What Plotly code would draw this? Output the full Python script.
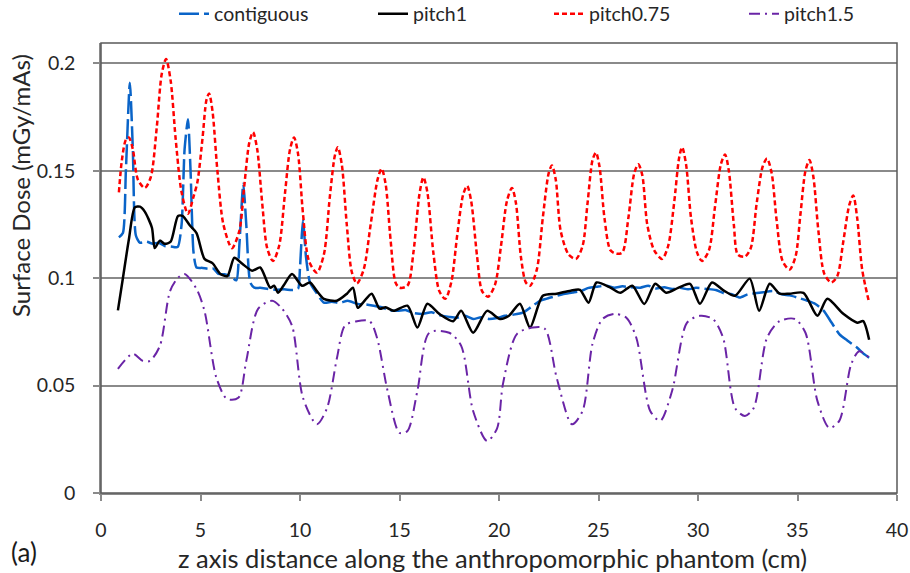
import plotly.graph_objects as go

# ---------------- data ----------------
contig_x = [0.9, 1.1, 1.25, 1.45, 1.6, 1.75, 1.95, 2.3, 2.6, 2.9, 3.2, 3.5, 3.85, 4.05, 4.2, 4.37, 4.5, 4.65,
            4.8, 5.1, 5.4, 5.65, 5.9, 6.2, 6.5, 6.8, 6.95, 7.15, 7.3, 7.5, 7.7, 8.0, 8.4, 8.8, 9.2, 9.6, 9.9,
            10.0, 10.15, 10.3, 10.5, 10.8, 11.2, 11.6, 12.0, 12.4, 12.9, 13.3, 13.7, 14.1, 14.5, 14.9, 15.3,
            15.7, 16.2, 16.6, 17.0, 17.5, 17.9, 18.3, 18.7, 19.1, 19.5, 19.9, 20.3, 20.7, 21.2, 21.6, 22.06,
            22.4, 22.8, 23.2, 23.7, 24.1, 24.5, 24.9, 25.4, 25.8, 26.2, 26.6, 27.1, 27.5, 27.9, 28.3, 28.7,
            29.1, 29.5, 29.9, 30.45, 30.9, 31.3, 31.7, 32.1, 32.5, 32.9, 33.3, 33.8, 34.2, 34.6, 35.0, 35.5,
            35.9, 36.3, 36.7, 37.1, 37.5, 38.0, 38.3, 38.6]
contig_y = [0.119, 0.121, 0.150, 0.191, 0.160, 0.120, 0.1166, 0.117, 0.116, 0.1165, 0.115, 0.1148, 0.1145,
            0.125, 0.160, 0.174, 0.150, 0.112, 0.105, 0.1048, 0.1044, 0.1045, 0.102, 0.1018, 0.101, 0.099,
            0.115, 0.144, 0.125, 0.098, 0.0956, 0.0955, 0.095, 0.0946, 0.0948, 0.0945, 0.095, 0.105, 0.127,
            0.110, 0.098, 0.0935, 0.0886, 0.089, 0.0885, 0.0895, 0.088, 0.0878, 0.0872, 0.0865, 0.085, 0.0848,
            0.0852, 0.0838, 0.0834, 0.0842, 0.0828, 0.082, 0.0816, 0.0825, 0.081, 0.0818, 0.081, 0.0815,
            0.0825, 0.083, 0.084, 0.0865, 0.0895, 0.0905, 0.0915, 0.0925, 0.0933, 0.094, 0.0955, 0.096,
            0.0965, 0.0955, 0.0962, 0.0958, 0.0956, 0.0965, 0.0952, 0.0958, 0.095, 0.0955, 0.0948, 0.0955,
            0.095, 0.0945, 0.093, 0.0925, 0.091, 0.0925, 0.093, 0.0935, 0.094, 0.0925, 0.092, 0.091, 0.0895,
            0.088, 0.085, 0.0795, 0.074, 0.071, 0.0676, 0.065, 0.063]

pitch1_x = [0.85, 1.1, 1.4, 1.7, 1.96, 2.2, 2.56, 2.7, 2.96, 3.2, 3.5, 3.87, 4.1, 4.47, 4.8, 5.2, 5.6, 6.0,
            6.35, 6.7, 7.1, 7.6, 8.0, 8.5, 8.7, 8.9, 9.2, 9.6, 10.1, 10.5, 10.85, 11.2, 11.85, 12.36, 12.66,
            12.9, 13.2, 13.6, 14.0, 14.3, 14.7, 15.4, 15.9, 16.4, 17.0, 17.7, 18.1, 18.7, 19.4, 20.05, 20.5,
            21.05, 21.56, 22.2, 22.9, 23.6, 24.07, 24.5, 24.9, 25.6, 26.1, 26.7, 27.3, 27.85, 28.4, 29.0,
            29.6, 30.1, 30.7, 31.3, 31.86, 32.6, 33.07, 33.6, 34.1, 34.6, 35.3, 36.0, 36.5, 37.3, 38.0,
            38.3, 38.6]
pitch1_y = [0.085, 0.100, 0.118, 0.133, 0.1333, 0.131, 0.1235, 0.114, 0.1175, 0.116, 0.117, 0.129, 0.129,
            0.1245, 0.121, 0.109, 0.107, 0.102, 0.101, 0.1095, 0.1067, 0.1035, 0.105, 0.0956, 0.0965, 0.0932,
            0.097, 0.102, 0.0965, 0.098, 0.094, 0.0904, 0.0895, 0.0928, 0.0956, 0.0862, 0.089, 0.0928, 0.0858,
            0.0865, 0.0848, 0.0872, 0.077, 0.0881, 0.0834, 0.080, 0.0848, 0.0746, 0.0848, 0.081, 0.0825,
            0.0881, 0.077, 0.0918, 0.0928, 0.0942, 0.0946, 0.0886, 0.098, 0.0956, 0.0932, 0.0965, 0.088,
            0.0974, 0.0932, 0.0955, 0.0974, 0.0881, 0.098, 0.0942, 0.0918, 0.0998, 0.0848, 0.0974, 0.0928,
            0.0928, 0.0932, 0.0825, 0.0904, 0.0834, 0.0793, 0.080, 0.0713]

p075_x = [0.9, 1.05, 1.25, 1.4, 1.6, 1.85, 2.2, 2.5, 2.8, 3.05, 3.27, 3.5, 3.75, 4.05, 4.37, 4.65, 4.85, 5.1,
          5.3, 5.43, 5.6, 5.85, 6.15, 6.58, 6.95, 7.2, 7.45, 7.64, 7.85, 8.1, 8.35, 8.64, 8.95, 9.25, 9.5, 9.7,
          9.9, 10.15, 10.45, 10.85, 11.2, 11.5, 11.75, 11.9, 12.1, 12.35, 12.6, 12.86, 13.2, 13.55, 13.9,
          14.1, 14.3, 14.55, 14.8, 15.0, 15.4, 15.7, 16.0, 16.2, 16.4, 16.7, 17.0, 17.3, 17.6, 17.9, 18.2,
          18.4, 18.6, 18.9, 19.15, 19.45, 19.8, 20.1, 20.4, 20.65, 20.85, 21.1, 21.35, 21.56, 21.9, 22.2,
          22.5, 22.66, 22.85, 23.1, 23.5, 23.87, 24.2, 24.45, 24.7, 24.87, 25.05, 25.3, 25.6, 25.9, 26.2,
          26.5, 26.8, 27.0, 27.2, 27.45, 27.8, 28.2, 28.5, 28.8, 29.05, 29.2, 29.4, 29.65, 29.95, 30.2,
          30.55, 30.85, 31.15, 31.36, 31.55, 31.8, 32.0, 32.35, 32.65, 32.95, 33.25, 33.47, 33.7, 33.95,
          34.25, 34.6, 34.9, 35.15, 35.4, 35.6, 35.8, 36.05, 36.35, 36.7, 37.0, 37.3, 37.6, 37.8, 38.0,
          38.25, 38.6]
p075_y = [0.140, 0.155, 0.1645, 0.1655, 0.160, 0.146, 0.142, 0.147, 0.170, 0.195, 0.202, 0.192, 0.165, 0.140,
          0.130, 0.138, 0.145, 0.165, 0.183, 0.186, 0.178, 0.150, 0.125, 0.114, 0.122, 0.143, 0.163, 0.168,
          0.160, 0.135, 0.114, 0.108, 0.115, 0.140, 0.160, 0.1655, 0.158, 0.130, 0.108, 0.1026, 0.111, 0.138,
          0.157, 0.161, 0.153, 0.125, 0.103, 0.0975, 0.104, 0.125, 0.146, 0.151, 0.144, 0.118, 0.098, 0.0956,
          0.0965, 0.112, 0.139, 0.147, 0.140, 0.112, 0.094, 0.0904, 0.098, 0.120, 0.139, 0.143, 0.136, 0.110,
          0.094, 0.0914, 0.097, 0.115, 0.136, 0.142, 0.135, 0.110, 0.098, 0.0965, 0.104, 0.128, 0.149, 0.1525,
          0.146, 0.122, 0.111, 0.109, 0.115, 0.135, 0.155, 0.1585, 0.152, 0.128, 0.113, 0.1114, 0.112, 0.128,
          0.149, 0.153, 0.148, 0.125, 0.113, 0.109, 0.115, 0.135, 0.156, 0.161, 0.153, 0.128, 0.112, 0.108,
          0.113, 0.133, 0.153, 0.1576, 0.150, 0.125, 0.111, 0.110, 0.114, 0.135, 0.152, 0.1557, 0.149, 0.127,
          0.108, 0.104, 0.110, 0.130, 0.150, 0.155, 0.147, 0.122, 0.102, 0.098, 0.101, 0.117, 0.134, 0.1385,
          0.128, 0.104, 0.0886]

p15_x = [0.85, 1.6, 2.1, 2.46, 2.96, 3.47, 3.87, 4.2, 4.8, 5.2, 5.8, 6.33, 6.9, 7.3, 7.9, 8.6, 9.1, 9.6,
         10.15, 10.85, 11.36, 11.86, 12.26, 12.86, 13.5, 13.87, 14.4, 15.0, 15.4, 15.9, 16.5, 17.5, 18.1,
         18.7, 19.4, 19.9, 20.2, 20.9, 21.7, 22.3, 22.9, 23.67, 24.2, 24.7, 25.2, 25.8, 26.4, 26.9, 27.6,
         28.1, 28.7, 29.45, 30.1, 30.75, 31.26, 31.86, 32.36, 32.8, 33.47, 34.1, 34.87, 35.4, 36.0, 36.6,
         37.1, 37.7, 38.1, 38.6]
p15_y = [0.0578, 0.0648, 0.0615, 0.0615, 0.0685, 0.094, 0.1002, 0.102, 0.095, 0.0848, 0.0536, 0.0438, 0.0443,
         0.0615, 0.0858, 0.0895, 0.0858, 0.0779, 0.0443, 0.032, 0.0396, 0.063, 0.0779, 0.080, 0.080, 0.0723,
         0.0476, 0.028, 0.0289, 0.0476, 0.0746, 0.0746, 0.0685, 0.0382, 0.0242, 0.030, 0.0508, 0.074, 0.077,
         0.0765, 0.0536, 0.032, 0.0382, 0.0695, 0.081, 0.0834, 0.0816, 0.0723, 0.0382, 0.0336, 0.0476,
         0.0793, 0.0825, 0.081, 0.0723, 0.0396, 0.0359, 0.0396, 0.0723, 0.080, 0.081, 0.0746, 0.0429, 0.0303,
         0.0336, 0.060, 0.066, 0.063]

x_ticks = [0, 5, 10, 15, 20, 25, 30, 35, 40]
y_ticks = [0, 0.05, 0.1, 0.15, 0.2]
y_tick_labels = ["0", "0.05", "0.1", "0.15", "0.2"]

FONT = "Lato"
GRID = "#8a8a8a"
TXT = "#262626"

fig = go.Figure()
fig.add_trace(go.Scatter(x=contig_x, y=contig_y, name="contiguous", mode="lines",
                         line=dict(color="#0A64C8", width=2.5, dash="20px,5px", shape="spline", smoothing=0.6),
                         legend="legend"))
fig.add_trace(go.Scatter(x=pitch1_x, y=pitch1_y, name="pitch1", mode="lines",
                         line=dict(color="#000000", width=2.5, shape="spline", smoothing=0.7),
                         legend="legend2"))
fig.add_trace(go.Scatter(x=p075_x, y=p075_y, name="pitch0.75", mode="lines",
                         line=dict(color="#FF0000", width=2.5, dash="5px,3px", shape="spline", smoothing=0.8),
                         legend="legend3"))
fig.add_trace(go.Scatter(x=p15_x, y=p15_y, name="pitch1.5", mode="lines",
                         line=dict(color="#6A24A6", width=2, dash="11px,5px,2px,5px", shape="spline", smoothing=0.8),
                         legend="legend4"))

leg_common = dict(orientation="h", xref="container", yref="container", yanchor="middle", y=1 - 14 / 573,
                  font=dict(family=FONT, size=19.5, color=TXT), bgcolor="rgba(0,0,0,0)",
                  borderwidth=0, itemwidth=30)

L, R, T, B = 101, 13, 43, 80

fig.update_layout(
    width=910, height=573,
    showlegend=True,
    margin=dict(l=L, r=R, t=T, b=B, autoexpand=False),
    paper_bgcolor="white", plot_bgcolor="white",
    font=dict(family=FONT, size=19, color=TXT),
    legend=dict(leg_common, x=174 / 910),
    legend2=dict(leg_common, x=373 / 910),
    legend3=dict(leg_common, x=549 / 910),
    legend4=dict(leg_common, x=744 / 910),
    xaxis=dict(range=[0, 40], tickvals=x_ticks, ticks="outside", ticklen=6, tickcolor=GRID, tickwidth=1.5,
               showline=True, linecolor=GRID, linewidth=1.5, showgrid=False, zeroline=False,
               ticklabelstandoff=13, tickfont=dict(size=19.5, family=FONT, color=TXT)),
    yaxis=dict(range=[0, 0.2095], tickvals=y_ticks, ticktext=y_tick_labels, ticks="outside", ticklen=6,
               tickcolor=GRID, tickwidth=1.5, showline=True, linecolor=GRID, linewidth=1.5,
               showgrid=True, gridcolor=GRID, gridwidth=1.5, zeroline=False,
               ticklabelstandoff=14, tickfont=dict(size=19.5, family=FONT, color=TXT)),
    shapes=[dict(type="rect", xref="paper", yref="paper", x0=0, x1=1, y0=0, y1=1,
                 line=dict(color="#5a5a5a", width=1.5), layer="above")],
    annotations=[
        dict(text="z axis distance along the anthropomorphic phantom (cm)", xref="paper", yref="paper",
             x=(492 - L) / 796, y=-(558 - 493) / 450, showarrow=False, xanchor="center", yanchor="middle",
             font=dict(size=25.5, family=FONT, color=TXT)),
        dict(text="Surface Dose (mGy/mAs)", xref="paper", yref="paper", textangle=-90,
             x=-(101 - 20) / 796, y=(493 - 186) / 450, showarrow=False, xanchor="center", yanchor="middle",
             font=dict(size=24, family=FONT, color=TXT)),
        dict(text="(a)", xref="paper", yref="paper", x=-(101 - 24) / 796, y=-(552 - 493) / 450,
             showarrow=False, xanchor="center", yanchor="middle",
             font=dict(size=26, family=FONT, color="#1a1a1a")),
    ],
)

fig.write_html("out.html")
